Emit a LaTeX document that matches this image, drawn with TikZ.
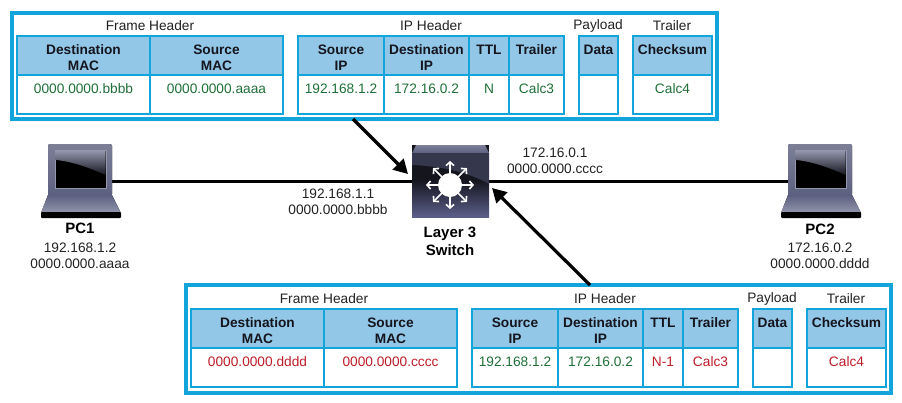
\documentclass[tikz,border=0pt]{standalone}
\usepackage{fontspec}
\setmainfont{Liberation Sans}
\usepackage{xcolor}
\usetikzlibrary{arrows.meta}
\definecolor{panelblue}{HTML}{12A5DC}
\definecolor{headblue}{HTML}{93C7E8}
\definecolor{keepgreen}{HTML}{1F7038}
\definecolor{newred}{HTML}{BE1E28}
\definecolor{inktext}{HTML}{222222}
\definecolor{slatetop}{HTML}{7C7F96}
\definecolor{slatemid}{HTML}{5C6080}
\definecolor{slatedark}{HTML}{35374C}
\definecolor{slatelow}{HTML}{5C5F8A}
\definecolor{slatepale}{HTML}{9396AC}
\definecolor{nearblack}{HTML}{15151E}
\tikzset{every node/.style={font=\fontsize{13.7}{16}\selectfont,text=inktext},
    panelbox/.style={draw=panelblue,line width=3.2pt,fill=white,anchor=north west,outer sep=0pt},
    fieldcell/.style={draw=panelblue,line width=1.5pt,anchor=north west,outer sep=0pt,inner sep=0pt,
        align=center,text height=18pt,text depth=21pt},
    fieldhead/.style={fieldcell,fill=headblue,font=\fontsize{13.7}{16}\selectfont\bfseries,text=nearblack},
    grouplabel/.style={inner sep=0pt},
    addr/.style={align=center,inner sep=0pt},
    devname/.style={align=center,inner sep=0pt,font=\fontsize{15}{18}\selectfont\bfseries,text=black},
    devbox/.style={minimum width=64pt,minimum height=74pt,inner sep=0pt,outer sep=0pt},
    wire/.style={draw=black,line width=3pt},
    flow/.style={draw=black,line width=3.2pt,-{Triangle[length=14pt,width=15pt]}},
    laptop/.pic={
        \fill[top color=slatetop,bottom color=slatemid,rounded corners=2pt]
            (-32,-37) rectangle (32,15);
        \draw[fill=black,draw=slatepale,line width=1pt] (-25,-31) rectangle (26,7);
        \shade[top color=slatepale,bottom color=nearblack]
            (-24.5,-30.5) -- (25.5,-30.5) -- (25.5,-6) .. controls (8,-14) and (-10,-20) .. (-24.5,-21) -- cycle;
        \fill[top color=slatemid,bottom color=slatepale]
            (-32,14) -- (32,14) -- (41,32) -- (-39,32) -- cycle;
        \fill[black,rounded corners=1pt] (-39,31) rectangle (41,37);
    }}

\begin{document}
\begin{tikzpicture}[x=1pt,y=-1pt]
    \useasboundingbox (0,0) rectangle (902,402);

    % upper and lower frame
    \node[panelbox,minimum width=705pt,minimum height=106pt] (toppanel) at (12,13) {};
    \node[panelbox,minimum width=705pt,minimum height=108pt] (lowpanel) at (186,285) {};

    \foreach \nm/\xa/\xb/\hd/\val/\col in {
        dm/17/150/{Destination\\MAC}/0000.0000.bbbb/keepgreen,
        sm/150/283/{Source\\MAC}/0000.0000.aaaa/keepgreen,
        si/298/384/{Source\\IP}/192.168.1.2/keepgreen,
        di/384/469/{Destination\\IP}/172.16.0.2/keepgreen,
        tl/469/509/TTL/N/keepgreen,
        tr/509/564/Trailer/Calc3/keepgreen,
        da/579/618/Data/{}/keepgreen,
        ck/633/712/Checksum/Calc4/keepgreen}
    {
        \pgfmathsetmacro{\colw}{\xb-\xa}
        \node[fieldhead,text width=\colw pt] (t\nm h) at (\xa,36) {\hd};
        \node[fieldcell,text width=\colw pt,text=\col] (t\nm v) at (\xa,75) {\val};
    }
    \node[grouplabel] (tframe) at (150,26) {Frame Header};
    \node[grouplabel] (tip) at (431,26) {IP Header};
    \node[grouplabel] (tload) at (598,26) {Payload};
    \node[grouplabel] (ttrail) at (672,26) {Trailer};

    \begin{scope}[shift={(174,273)}]
    \foreach \nm/\xa/\xb/\hd/\val/\col in {
        dm/17/150/{Destination\\MAC}/0000.0000.dddd/newred,
        sm/150/283/{Source\\MAC}/0000.0000.cccc/newred,
        si/298/384/{Source\\IP}/192.168.1.2/keepgreen,
        di/384/469/{Destination\\IP}/172.16.0.2/keepgreen,
        tl/469/509/TTL/N-1/newred,
        tr/509/564/Trailer/Calc3/newred,
        da/579/618/Data/{}/newred,
        ck/633/712/Checksum/Calc4/newred}
    {
        \pgfmathsetmacro{\colw}{\xb-\xa}
        \node[fieldhead,text width=\colw pt] (b\nm h) at (\xa,36) {\hd};
        \node[fieldcell,text width=\colw pt,text=\col] (b\nm v) at (\xa,75) {\val};
    }
    \node[grouplabel] (bframe) at (150,26) {Frame Header};
    \node[grouplabel] (bip) at (431,26) {IP Header};
    \node[grouplabel] (bload) at (598,26) {Payload};
    \node[grouplabel] (btrail) at (672,26) {Trailer};
    \end{scope}

    % devices
    \node[devbox] (pc1) at (80,181) {};
    \node[devbox] (pc2) at (820,181) {};
    \node[minimum width=77pt,minimum height=72pt,inner sep=0pt,outer sep=0pt,
        fill=nearblack] (l3switch) at (450.5,181) {};
    \draw[wire] (pc1.east) -- (l3switch.west);
    \draw[wire] (l3switch.east) -- (pc2.west);
    \pic at (pc1) {laptop};
    \pic at (pc2) {laptop};

    % switch face
    \fill[top color=nearblack,bottom color=slatelow] (412,180) rectangle (489,217);
    \fill[slatedark] (412,153) -- (489,153) -- (489,184) .. controls (468,172) and (440,166) .. (412,165) -- cycle;
    \fill[top color=slatetop,bottom color=slatemid]
        (416,145) -- (485,145) -- (489,153) -- (412,153) -- cycle;
    \fill[white] (450,185) circle (12);
    \foreach \ang in {0,45,...,315}
        \draw[white,line width=1.6pt,-{Straight Barb[length=3.5pt,width=8pt]}]
            (450,185) -- ++(\ang:24);

    \draw[flow] ([xshift=-11.5pt]toppanel.south) -- ([shift={(-4,-7)}]l3switch.west);
    \draw[flow] ([xshift=51.5pt]lowpanel.north) -- ([shift={(3,7)}]l3switch.east);

    \node[devname] (pc1name) at (80,228) {PC1};
    \node[addr] (pc1addr) at (80,255.5) {192.168.1.2\\0000.0000.aaaa};
    \node[devname] (pc2name) at (820,229) {PC2};
    \node[addr] (pc2addr) at (820,256) {172.16.0.2\\0000.0000.dddd};
    \node[devname] (swname) at (450,241) {Layer 3\\Switch};
    \node[addr] (inaddr) at (338,202) {192.168.1.1\\0000.0000.bbbb};
    \node[addr] (outaddr) at (555,161) {172.16.0.1\\0000.0000.cccc};
\end{tikzpicture}
\end{document}
